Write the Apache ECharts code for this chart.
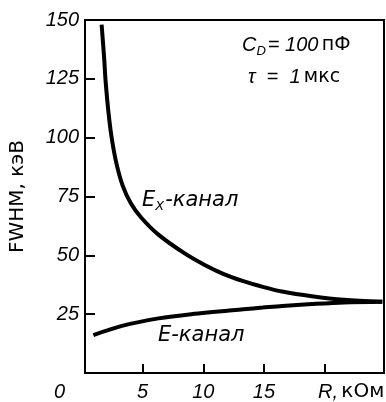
<!DOCTYPE html>
<html><head><meta charset="utf-8">
<script src="https://cdn.jsdelivr.net/npm/echarts@6/dist/echarts.min.js"></script>
<style>html,body{margin:0;padding:0;background:#fff}#c{width:386px;height:402px}</style>
</head><body><div id="c"></div>
<script>
// E_x channel curve (R in kOhm, FWHM in keV)
const exR    = [1.62, 1.84, 1.94, 2.16, 2.43, 2.83, 3.37, 4.04, 4.84, 6.3, 8.47, 10.08, 11.69, 13.3, 14.9, 16.5, 18.95, 21.6, 24.76];
const exFWHM = [148, 133, 124.6, 112, 100.6, 89.3, 79.4, 72, 66.3, 58.8, 50.8, 46, 42, 39, 36.6, 34.6, 32.6, 31.1, 30.3];
// E channel curve
const eR    = [0.94, 3.3, 6.31, 9.0, 13.3, 14.9, 16.5, 18.95, 21.6, 24.76];
const eFWHM = [16.1, 20, 23.2, 25, 27.1, 27.8, 28.5, 29.3, 30.0, 30.3];
// axis ticks
const xTicks = [5, 10, 15, 20];
const xTickLabels = [5, 10, 15];
const yTicks = [25, 50, 75, 100, 125, 150];

const chart = echarts.init(document.getElementById('c'), null, {renderer: 'canvas'});
const fam = 'Liberation Sans';
const fam2 = 'DejaVu Sans';
const toPairs = (xs, ys) => xs.map((x, i) => [x, ys[i]]);
chart.setOption({
  animation: false,
  backgroundColor: '#fff',
  grid: {left: 78, right: 2, top: 20, bottom: 28, show: true, borderColor: '#000', borderWidth: 2},
  xAxis: {
    type: 'value', min: 0.25, max: 24.9,
    axisLine: {show: true, lineStyle: {color: '#000', width: 2}},
    axisTick: {show: true, inside: true, length: 9, lineStyle: {color: '#000', width: 2}, customValues: xTicks},
    axisLabel: {color: '#000', fontSize: 20, fontStyle: 'italic', fontFamily: fam, margin: 9, customValues: xTickLabels},
    splitLine: {show: false}
  },
  yAxis: {
    type: 'value', min: 0, max: 150, interval: 25,
    name: 'FWHM, кэВ', nameLocation: 'middle', nameGap: 57, nameRotate: 90,
    nameTextStyle: {color: '#000', fontSize: 20, fontFamily: fam2},
    axisLine: {show: true, lineStyle: {color: '#000', width: 2}},
    axisTick: {show: true, inside: true, length: 10, lineStyle: {color: '#000', width: 2}},
    axisLabel: {color: '#000', fontSize: 20, fontStyle: 'italic', fontFamily: fam, margin: 6,
      formatter: v => (yTicks.indexOf(v) >= 0 ? String(v) : '')},
    splitLine: {show: false}
  },
  series: [
    {type: 'line', data: toPairs(exR, exFWHM), smooth: 0.3, symbol: 'none',
     lineStyle: {color: '#000', width: 4}},
    {type: 'line', data: toPairs(eR, eFWHM), smooth: 0.3, symbol: 'none',
     lineStyle: {color: '#000', width: 4}}
  ],
  graphic: [
    {type: 'text', left: 54, top: 382, style: {text: '0', font: 'italic 20px ' + fam, fill: '#000'}},
    {type: 'text', left: 318, top: 382, style: {text: '{i|R,} {u|кОм}', rich: {
      i: {font: 'italic 20px ' + fam, fill: '#000'}, u: {font: '20px ' + fam2, fill: '#000'}}}},
    {type: 'text', left: 242, top: 35, style: {text: '{i|C}{s|D}{i|= 100} {u|пФ}', rich: {
      i: {font: 'italic 20px ' + fam, fill: '#000', verticalAlign: 'top'},
      s: {font: 'italic 13px ' + fam, fill: '#000', verticalAlign: 'top', padding: [10, 2, 0, 0]},
      u: {font: '19px ' + fam2, fill: '#000', verticalAlign: 'top', padding: [1, 0, 0, 0]}}}},
    {type: 'text', left: 248, top: 67, style: {text: '{i|τ  =  1} {u|мкс}', rich: {
      i: {font: 'italic 20px ' + fam, fill: '#000'}, u: {font: '19px ' + fam2, fill: '#000'}}}},
    {type: 'text', left: 142, top: 190, style: {text: '{i|E}{s|X}{i|-канал}', rich: {
      i: {font: 'italic 21px ' + fam2, fill: '#000', verticalAlign: 'top'},
      s: {font: 'italic 13px ' + fam2, fill: '#000', verticalAlign: 'top', padding: [10, 1, 0, 0]}}}},
    {type: 'text', left: 158, top: 325, style: {text: 'E-канал', font: 'italic 21px ' + fam2, fill: '#000'}}
  ]
});
</script></body></html>
